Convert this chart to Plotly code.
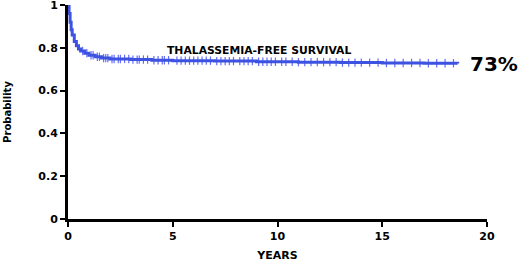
import plotly.graph_objects as go
import numpy as np

# Kaplan-Meier step data (years, survival probability)
times = [0, 0.05, 0.1, 0.15, 0.2, 0.3, 0.4, 0.5, 0.6, 0.8, 1.0, 1.3, 1.6, 2.0, 3.0, 4.0, 5.0, 7.0, 9.0, 11.0, 13.0, 15.0, 17.0, 18.6]
surv = [1.0, 0.96, 0.92, 0.885, 0.86, 0.83, 0.81, 0.795, 0.785, 0.775, 0.765, 0.758, 0.752, 0.748, 0.745, 0.742, 0.740, 0.738, 0.735, 0.733, 0.731, 0.729, 0.728, 0.727]

# censoring times (years)
censor_times = [0.7, 0.9, 1.1, 1.2, 1.4, 1.5, 1.7, 1.8, 1.9, 2.1, 2.2, 2.4, 2.5, 2.7, 2.9, 3.1, 3.3, 3.4, 3.6, 3.8, 4.1, 4.3, 4.5, 4.6, 4.8,
                5.2, 5.4, 5.6, 5.8, 6.0, 6.2, 6.4, 6.6, 6.8, 7.1, 7.3, 7.5, 7.7, 7.9, 8.2, 8.4, 8.6, 8.8, 9.1, 9.3, 9.5, 9.7, 9.9,
                10.2, 10.4, 10.7, 11.0, 11.3, 11.6, 11.9, 12.2, 12.5, 12.8, 13.1, 13.4, 13.7, 14.0, 14.4, 14.8, 15.2, 15.6, 16.0,
                16.4, 16.8, 17.2, 17.6, 18.0, 18.4]

annotation_label = "THALASSEMIA-FREE SURVIVAL"
final_label = "73%"
x_ticks = [0, 5, 10, 15, 20]
y_ticks = [0, 0.2, 0.4, 0.6, 0.8, 1]
y_tick_text = ["0", "0.2", "0.4", "0.6", "0.8", "1"]

idx = np.searchsorted(times, censor_times, side="right") - 1
censor_surv = [surv[i] for i in idx]

FONT = "DejaVu Sans"
fig = go.Figure()
fig.add_trace(go.Scatter(x=censor_times, y=censor_surv, mode="markers",
                         marker=dict(symbol="line-ns-open", size=6,
                                     line=dict(color="#8f9ef2", width=1.2)),
                         hoverinfo="skip", showlegend=False, cliponaxis=False))
fig.add_trace(go.Scatter(x=times, y=surv, mode="lines", line_shape="hv",
                         line=dict(color="#3d52e0", width=3), showlegend=False, cliponaxis=False))

fig.add_annotation(x=9.1, y=0.75, xref="x", yref="y", text="<b>" + annotation_label + "</b>",
                   showarrow=False, yanchor="bottom", xanchor="center",
                   font=dict(family=FONT, size=10.8, color="black"))
fig.add_annotation(x=19.1, y=0.725, xref="x", yref="y", text="<b>" + final_label + "</b>",
                   showarrow=False, xanchor="left", yanchor="middle",
                   font=dict(family=FONT, size=20, color="black"))

fig.update_layout(
    width=520, height=264,
    margin=dict(l=68, r=33, t=5, b=45, autoexpand=False),
    plot_bgcolor="white", paper_bgcolor="white",
    font=dict(family=FONT, size=11, color="black"),
)
fig.update_xaxes(range=[0, 20], tickvals=x_ticks, ticktext=["<b>%d</b>" % v for v in x_ticks],
                 showline=True, linecolor="black", linewidth=3, ticks="outside",
                 ticklen=5, tickwidth=2, tickcolor="black", showgrid=False, zeroline=False,
                 title=dict(text="<b>YEARS</b>", font=dict(size=11), standoff=10),
                 automargin=False, fixedrange=True, ticklabeloverflow="allow")
fig.update_yaxes(range=[0, 1.0001], tickvals=y_ticks, ticktext=["<b>%s</b>" % t for t in y_tick_text],
                 showline=True, linecolor="black", linewidth=3, ticks="outside",
                 ticklen=5, tickwidth=2, tickcolor="black", showgrid=False, zeroline=False,
                 title=dict(text="<b>Probability</b>", font=dict(size=10), standoff=25),
                 automargin=False, fixedrange=True, ticklabeloverflow="allow")

fig.write_html("out.html", config={"displayModeBar": False},
               post_script="document.body.style.margin='0px';")
